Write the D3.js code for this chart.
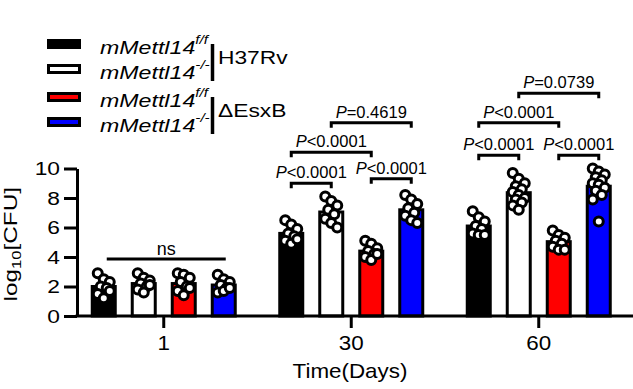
<!DOCTYPE html>
<html lang="en">
<head>
  <meta charset="UTF-8">
  <title>log10 CFU by day</title>
  <script src="https://d3js.org/d3.v7.min.js"></script>
  <style>
    body { margin: 0; background: #fff; }
    svg { font-family: "Liberation Sans", Arial, sans-serif; }
  </style>
</head>
<body>
<svg id="chart" width="633" height="389"></svg>

<script>
  // Data
  const days = ["1", "30", "60"];
  const groups = ["ffH37Rv", "koH37Rv", "ffEsxB", "koEsxB"];
  const groupColors = ["#000000", "#ffffff", "#ff0000", "#0000ff"];

  // bar heights (means), one row per day
  const barMeans = [
    [2.0, 2.2, 2.2, 2.1],
    [5.6, 7.05, 4.4, 7.2],
    [6.1, 8.36, 5.04, 8.8]
  ];

  // individual points, day -> group -> values
  const points = [
    [
      [2.9, 2.5, 2.3, 2.0, 1.9, 1.5, 1.2, 1.7],
      [2.9, 2.6, 2.4, 2.2, 2.0, 1.8, 1.6, 2.1],
      [2.9, 2.8, 2.6, 2.3, 2.0, 1.7, 1.4, 1.9],
      [2.8, 2.5, 2.3, 2.1, 1.9, 1.6, 1.7, 1.9]
    ],
    [
      [6.5, 6.2, 5.9, 5.6, 5.4, 5.1, 4.9, 5.2],
      [8.1, 7.8, 7.5, 7.2, 6.9, 6.6, 6.3, 6.0],
      [5.1, 4.9, 4.6, 4.4, 4.2, 4.0, 3.8, 4.2],
      [8.2, 7.9, 7.6, 7.3, 7.0, 6.8, 6.5, 6.3]
    ],
    [
      [7.1, 6.7, 6.4, 6.1, 5.9, 5.6, 5.5, 5.5],
      [9.7, 9.3, 9.0, 8.8, 8.6, 8.4, 8.2, 8.0, 7.9, 7.7, 7.5, 7.2],
      [5.8, 5.5, 5.3, 5.1, 4.9, 4.7, 4.5, 4.5],
      [10.0, 9.8, 9.6, 9.4, 9.2, 9.0, 8.9, 8.7, 8.5, 8.2, 7.9, 6.4]
    ]
  ];

  const yTicks = [0, 2, 4, 6, 8, 10];

  // comparisons: day, from group, to group, bracket level (y units), label
  const comparisons = [
    { day: "30", a: 0, b: 1, level: 9.0, label: "<0.0001" },
    { day: "30", a: 0, b: 2, level: 11.1, label: "<0.0001" },
    { day: "30", a: 1, b: 3, level: 13.1, label: "=0.4619" },
    { day: "30", a: 2, b: 3, level: 9.3, label: "<0.0001" },
    { day: "60", a: 0, b: 1, level: 10.9, label: "<0.0001" },
    { day: "60", a: 0, b: 2, level: 13.1, label: "<0.0001" },
    { day: "60", a: 1, b: 3, level: 15.1, label: "=0.0739" },
    { day: "60", a: 2, b: 3, level: 10.9, label: "<0.0001" }
  ];
  const nsLine = { day: "1", a: 0, b: 3, level: 3.86, label: "ns" };

  const legendGenotype = ["f/f", "-/-", "f/f", "-/-"];
  const legendStrain = ["H37Rv", "\u0394EsxB"];

  // Layout
  const width = 633, height = 389;
  const margin = { top: 168.5, left: 77, bottom: 316 };

  const svg = d3.select("#chart");

  const x = d3.scaleBand().domain(days).range([70, 632.5]);
  const xSub = d3.scalePoint().domain(d3.range(groups.length)).range([-60, 60]);
  const y = d3.scaleLinear().domain([0, 10]).range([margin.bottom, margin.top]);
  const barW = 23;

  const cx = (day, gi) => x(day) + x.bandwidth() / 2 + xSub(gi);

  // bars
  const barData = [];
  days.forEach((d, di) => groups.forEach((g, gi) => {
    barData.push({ day: d, gi: gi, v: barMeans[di][gi] });
  }));

  svg.append("g").selectAll("rect")
    .data(barData)
    .join("rect")
    .attr("x", d => cx(d.day, d.gi) - barW / 2)
    .attr("y", d => y(d.v))
    .attr("width", barW)
    .attr("height", d => y(0) - y(d.v))
    .attr("fill", d => groupColors[d.gi])
    .attr("stroke", "#000")
    .attr("stroke-width", 3);

  // points
  const dotData = [];
  days.forEach((d, di) => groups.forEach((g, gi) => {
    points[di][gi].forEach((v, i) => dotData.push({ day: d, gi: gi, v: v, i: i }));
  }));

  svg.append("g").selectAll("circle")
    .data(dotData)
    .join("circle")
    .attr("cx", d => cx(d.day, d.gi) + (((d.i * 7) % 5) - 2) * 3)
    .attr("cy", d => y(d.v))
    .attr("r", 4.5)
    .attr("fill", "#fff")
    .attr("stroke", "#000")
    .attr("stroke-width", 3);

  // y axis
  const yAxis = svg.append("g")
    .attr("transform", `translate(${margin.left},0)`)
    .call(d3.axisLeft(y).tickValues(yTicks).tickSize(13).tickSizeOuter(0));
  yAxis.select(".domain").attr("stroke-width", 3);
  yAxis.selectAll(".tick line").attr("stroke-width", 3);
  yAxis.selectAll(".tick text")
    .attr("x", null)
    .attr("transform", "translate(-17,0) scale(1.2,1)")
    .attr("font-size", 19)
    .attr("fill", "#000");
  yAxis.attr("font-family", null);

  // x axis
  const xAxis = svg.append("g")
    .attr("transform", `translate(0,${margin.bottom})`)
    .call(d3.axisBottom(x).tickSize(12).tickSizeOuter(0));
  xAxis.select(".domain").remove();
  xAxis.append("line")
    .attr("x1", margin.left - 1.5).attr("x2", width)
    .attr("stroke", "#000").attr("stroke-width", 3);
  xAxis.selectAll(".tick line").attr("stroke-width", 3);
  xAxis.selectAll(".tick text")
    .attr("y", null).attr("dy", null)
    .attr("transform", "translate(0,34) scale(1.12,1)")
    .attr("font-size", 20)
    .attr("fill", "#000");
  xAxis.attr("font-family", null);

  // axis titles
  svg.append("text")
    .attr("transform", `translate(350,378) scale(1.12,1)`)
    .attr("text-anchor", "middle")
    .attr("font-size", 20)
    .text("Time(Days)");

  const yt = svg.append("text")
    .attr("transform", `translate(17,${(margin.top + margin.bottom) / 2 + 2}) rotate(-90) scale(1.28,1)`)
    .attr("text-anchor", "middle")
    .attr("font-size", 19);
  yt.append("tspan").text("log");
  yt.append("tspan").attr("font-size", 13).attr("dy", 4).text("10");
  yt.append("tspan").attr("dy", -4).text("[CFU]");

  // significance brackets
  const tip = 5;
  const br = svg.append("g");
  comparisons.forEach(c => {
    const x1 = cx(c.day, c.a), x2 = cx(c.day, c.b), yy = y(c.level);
    br.append("path")
      .attr("d", `M${x1},${yy + tip}V${yy}H${x2}V${yy + tip}`)
      .attr("fill", "none")
      .attr("stroke", "#000")
      .attr("stroke-width", 3);
    const t = br.append("text")
      .attr("x", (x1 + x2) / 2)
      .attr("y", yy - 5)
      .attr("text-anchor", "middle")
      .attr("font-size", 16.5);
    t.append("tspan").attr("font-style", "italic").text("P");
    t.append("tspan").text(c.label);
  });

  {
    const x1 = cx(nsLine.day, nsLine.a) + 3, x2 = cx(nsLine.day, nsLine.b) + 2, yy = y(nsLine.level);
    br.append("line")
      .attr("x1", x1).attr("x2", x2).attr("y1", yy).attr("y2", yy)
      .attr("stroke", "#000").attr("stroke-width", 3);
    br.append("text")
      .attr("x", (x1 + x2) / 2)
      .attr("y", yy - 4)
      .attr("text-anchor", "middle")
      .attr("font-size", 18)
      .text(nsLine.label);
  }

  // legend
  const legend = svg.append("g");
  const rowY = i => 44 + i * 25 + (i >= 2 ? 3 : 0);

  groups.forEach((g, i) => {
    legend.append("rect")
      .attr("x", 48.5).attr("y", rowY(i) - 3.5)
      .attr("width", 31).attr("height", 7)
      .attr("fill", groupColors[i])
      .attr("stroke", "#000").attr("stroke-width", 3);
    const t = legend.append("text")
      .attr("transform", `translate(100,${rowY(i) + 9.5}) scale(1.22,1)`)
      .attr("font-size", 19)
      .attr("font-style", "italic");
    t.append("tspan").text("mMettl14");
    t.append("tspan").attr("font-size", 12.5).attr("dy", -9.5).text(legendGenotype[i]);
  });

  legendStrain.forEach((s, k) => {
    const top = rowY(2 * k), bot = rowY(2 * k + 1);
    legend.append("line")
      .attr("x1", 212.5).attr("x2", 212.5)
      .attr("y1", top).attr("y2", bot + 12)
      .attr("stroke", "#000").attr("stroke-width", 3.5);
    legend.append("text")
      .attr("transform", `translate(218,${(top + bot) / 2 + 7.5}) scale(1.2,1)`)
      .attr("font-size", 19)
      .text(s);
  });
</script>
</body>
</html>
